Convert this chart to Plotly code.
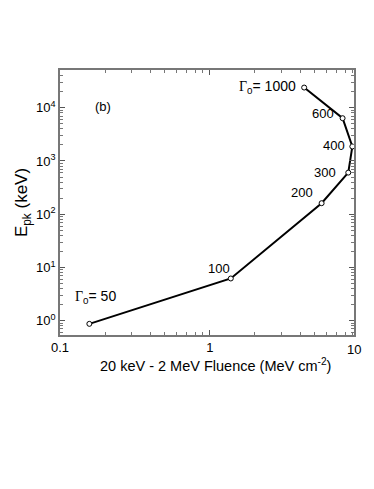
import math
import plotly.graph_objects as go

# Lorentz factor labels and read-off values
gamma = [50, 100, 200, 300, 400, 600, 1000]
fluence = [0.157, 1.38, 5.57, 8.39, 8.93, 7.69, 4.26]   # MeV cm^-2
epk = [0.87, 6.2, 161, 605, 1870, 6370, 24000]          # keV

labels = ['<span style="font-family:Liberation Serif">Γ</span><sub>0</sub>= 50',
          '100', '200', '300', '400', '600',
          '<span style="font-family:Liberation Serif">Γ</span><sub>0</sub>= 1000']

xticks = [0.1, 1, 10]
xtick_text = ['0.1', '1', '10']
yticks = [1, 10, 100, 1000, 10000]
ytick_text = ['10<sup>0</sup>', '10<sup>1</sup>', '10<sup>2</sup>', '10<sup>3</sup>', '10<sup>4</sup>']

# minor ticks 2..9 in each decade
xminor = [m * d for d in [0.1, 1] for m in range(2, 10)]
yminor = [m * d for d in [0.1, 1, 10, 100, 1000, 10000] for m in range(2, 10)]

xrange_log = [-1, 0.962]

fig = go.Figure()
fig.add_trace(go.Scatter(x=fluence, y=epk, mode='lines+markers',
                         line=dict(color='black', width=2),
                         marker=dict(symbol='circle', size=5, color='white',
                                     line=dict(color='black', width=1)),
                         showlegend=False))

# label offsets relative to each point (pixels)
anchors = ['center', 'right', 'right', 'right', 'right', 'right', 'right']
sizes = [14, 13, 13, 13, 13, 13, 14]
xs = [6, 1, -7, -10, -5, -7, -6]
ys = [27, 10, 11, 0, 1, 5, 1]
for fx, fy, t, a, s, dx, dy in zip(fluence, epk, labels, anchors, sizes, xs, ys):
    fig.add_annotation(x=math.log10(fx), y=math.log10(fy), text=t, showarrow=False,
                       xanchor=a, yanchor='middle', xshift=dx, yshift=dy,
                       font=dict(size=s, color='black'))

fig.add_annotation(x=0.146, y=0.864, xref='paper', yref='paper', text='(b)',
                   xanchor='center', yanchor='middle',
                   showarrow=False, font=dict(size=13, color='black'))

# the "10" tick label sits just past the right edge of the frame
fig.add_annotation(x=(math.log10(xticks[-1]) - xrange_log[0]) / (xrange_log[1] - xrange_log[0]),
                   y=-0.053, xref='paper', yref='paper', xanchor='center', yanchor='middle',
                   xshift=-6, text=xtick_text[-1], showarrow=False,
                   font=dict(size=13, color='black'))

# x axis title as annotation to sit close to the tick labels
fig.add_annotation(x=0.53, y=-0.113, xref='paper', yref='paper', xanchor='center',
                   yanchor='middle',
                   text='20 keV - 2 MeV Fluence (MeV cm<sup>-2</sup>)',
                   showarrow=False, font=dict(size=14.5, color='black'))

axis_common = dict(type='log', showgrid=False, zeroline=False, showline=True,
                   linecolor='#777', linewidth=1.5, mirror='ticks', automargin=False,
                   ticks='inside', ticklen=5, tickcolor='#555', tickwidth=1,
                   tickfont=dict(size=13, color='black'))

fig.update_xaxes(**axis_common, range=xrange_log, tickvals=xticks, ticktext=xtick_text,
                 minor=dict(tickmode='array', tickvals=xminor, ticks='inside', ticklen=3,
                            tickcolor='#777', showgrid=False))
fig.update_yaxes(**axis_common, range=[-0.27, 4.71], tickvals=yticks, ticktext=ytick_text,
                 minor=dict(tickmode='array', tickvals=yminor, ticks='inside', ticklen=3,
                            tickcolor='#777', showgrid=False),
                 title=dict(text='E<sub>pk</sub> (keV)', font=dict(size=17, color='black'),
                            standoff=4))

# page body has an 8px margin; size the figure to end at the window's right edge
fig.update_layout(width=366, height=473, plot_bgcolor='white', paper_bgcolor='white',
                  font=dict(family='Liberation Sans, Arial, sans-serif', color='black'),
                  margin=dict(l=52, r=20, t=62, b=146))

fig.write_html("out.html")
